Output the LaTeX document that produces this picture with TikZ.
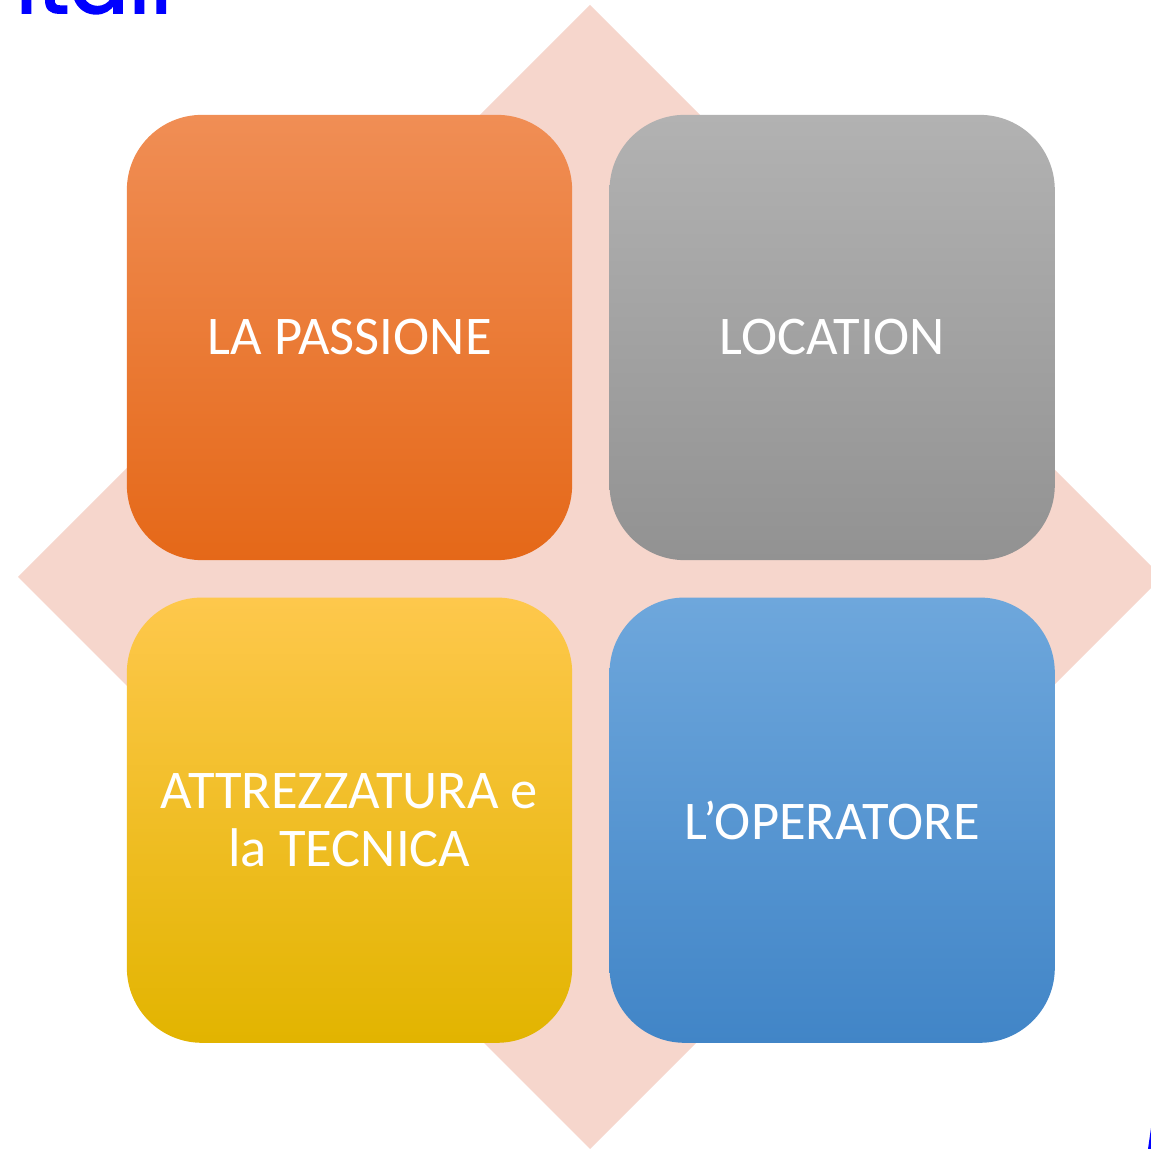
\documentclass[tikz,border=0pt]{standalone}
\usepackage{fontspec}
\setmainfont{Carlito}
\newfontfamily\titlefont[FakeBold=2]{Poppins}
\usetikzlibrary{positioning, calc}
\tikzstyle{tile} = [rounded corners=0.75cm, minimum width=4.45cm, minimum height=4.45cm, inner sep=0pt, align=center, text=white, font=\fontsize{15.5}{16.5}\selectfont]
\definecolor{rhomb}{RGB}{246,214,204}
\definecolor{titleblue}{RGB}{0,0,255}

\begin{document}
\begin{tikzpicture}[x=0.01cm, y=-0.01cm]
	
	\useasboundingbox (0,0) rectangle (1151,1149);
	
	\coordinate (mid) at (590,577);
	
	% rombo di sfondo
	\fill[rhomb] ($ (mid) + (0,-572) $) -- ($ (mid) + (572,0) $) -- ($ (mid) + (0,572) $) -- ($ (mid) + (-572,0) $) -- cycle;
	
	% i quattro riquadri
	\node[tile, top color={rgb,255:red,240;green,142;blue,85}, middle color={rgb,255:red,244;green,123;blue,42}, bottom color={rgb,255:red,229;green,104;blue,24}] (passione) at (349.5,337.5) {LA PASSIONE};
	\node[tile, top color={rgb,255:red,178;green,178;blue,178}, bottom color={rgb,255:red,146;green,146;blue,146}, right=0.36cm of passione] (location) {LOCATION};
	\node[tile, top color={rgb,255:red,254;green,200;blue,76}, middle color={rgb,255:red,255;green,198;blue,0}, bottom color={rgb,255:red,226;green,180;blue,0}, below=0.36cm of passione] (attrezzatura) {ATTREZZATURA e\\la TECNICA};
	\node[tile, top color={rgb,255:red,110;green,167;blue,220}, bottom color={rgb,255:red,65;green,133;blue,199}, below=0.36cm of location] (operatore) {L’OPERATORE};
	
	% resti del titolo
	\node[anchor=base west, inner sep=0pt, text=titleblue, font=\titlefont\fontsize{25}{28}\selectfont] (titolo) at (15,13) {itali};
	\fill[titleblue] (1148,1149) -- (1151,1128) -- (1151,1149) -- cycle;
	
\end{tikzpicture}
\end{document}
